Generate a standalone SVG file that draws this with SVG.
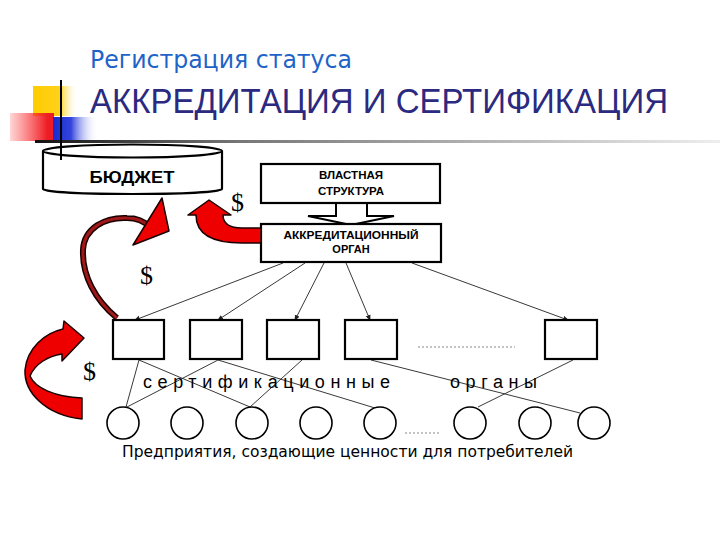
<svg xmlns="http://www.w3.org/2000/svg" width="720" height="540" viewBox="0 0 720 540">
<defs>
<linearGradient id="gY" x1="0" x2="1" y1="0" y2="0"><stop offset="0" stop-color="#ffcc00"/><stop offset="0.6" stop-color="#ffd21a"/><stop offset="1" stop-color="#ffffff" stop-opacity="0"/></linearGradient>
<linearGradient id="gR" x1="0" x2="1" y1="0" y2="0"><stop offset="0" stop-color="#ff3333" stop-opacity="0.2"/><stop offset="0.85" stop-color="#ee1c24"/><stop offset="1" stop-color="#ee1c24"/></linearGradient>
<linearGradient id="gB" x1="0" x2="1" y1="0" y2="0"><stop offset="0" stop-color="#1a2ad0"/><stop offset="0.4" stop-color="#3344dd"/><stop offset="1" stop-color="#ffffff" stop-opacity="0"/></linearGradient>
<linearGradient id="gL" x1="0" x2="1" y1="0" y2="0"><stop offset="0" stop-color="#111"/><stop offset="0.3" stop-color="#777"/><stop offset="0.7" stop-color="#bbb"/><stop offset="1" stop-color="#eee"/></linearGradient>
<marker id="ah" markerWidth="6" markerHeight="6" refX="5" refY="3" orient="auto" markerUnits="userSpaceOnUse"><path d="M0,0.5 L6,3 L0,5.5 Z" fill="#222"/></marker>
<style>
.box{fill:#fff;stroke:#000;stroke-width:2.2}
.thin{fill:#fff;stroke:#000;stroke-width:1.6}
.ln{stroke:#222;stroke-width:0.9;fill:none}
.dot{stroke:#888;stroke-width:1;stroke-dasharray:2 2;fill:none}
.bt{font-family:"Liberation Sans",Arial,sans-serif;font-weight:bold;fill:#000;text-anchor:middle}
.dl{font-family:"Liberation Serif","Times New Roman",serif;font-size:26px;fill:#000}
.red{fill:#ee0000;stroke:#1a0000;stroke-width:1.5;stroke-linejoin:round}
.sp{font-family:"Liberation Sans",Arial,sans-serif;font-size:18px;fill:#000}
</style>
</defs>
<rect width="720" height="540" fill="#fff"/>

<g id="decor">
<rect x="33" y="86" width="45" height="30" fill="url(#gY)"/>
<rect x="10" y="113" width="44" height="28" fill="url(#gR)"/>
<rect x="53" y="117" width="45" height="26" fill="url(#gB)"/>
<rect x="35" y="140" width="685" height="3" fill="url(#gL)"/>
</g>

<g id="title">
<text x="90" y="68" font-family="DejaVu Sans,Verdana,sans-serif" font-size="24" fill="#1e64c8" textLength="262" lengthAdjust="spacingAndGlyphs">Регистрация статуса</text>
<text x="90" y="113" font-family="Liberation Sans,Arial,sans-serif" font-size="35" fill="#2b2a80" textLength="578" lengthAdjust="spacingAndGlyphs">АККРЕДИТАЦИЯ И СЕРТИФИКАЦИЯ</text>
</g>

<g id="budget">
<path d="M43,151 L43,189 A89.5,5 0 0 0 222,189 L222,151" fill="#fff" stroke="#000" stroke-width="2.2"/>
<ellipse cx="132.5" cy="151" rx="89.5" ry="6.5" fill="#fff" stroke="#000" stroke-width="2.2"/>
<text class="bt" x="132" y="183" font-size="17" textLength="85" lengthAdjust="spacingAndGlyphs">БЮДЖЕТ</text>
</g>
<line x1="61" y1="80" x2="61" y2="160" stroke="#000" stroke-width="2"/>

<g id="connectors">
<polygon points="336,203 367,203 367,216 394,216 351,225 308,216 336,216" fill="#fff" stroke="#000" stroke-width="2"/>
<line class="ln" x1="283" y1="263" x2="135" y2="320" marker-end="url(#ah)"/>
<line class="ln" x1="305" y1="263" x2="218" y2="320" marker-end="url(#ah)"/>
<line class="ln" x1="324" y1="263" x2="295" y2="320" marker-end="url(#ah)"/>
<line class="ln" x1="346" y1="263" x2="370" y2="320" marker-end="url(#ah)"/>
<line class="ln" x1="412" y1="263" x2="568" y2="320" marker-end="url(#ah)"/>
<line class="ln" x1="139" y1="360" x2="126" y2="407"/>
<line class="ln" x1="139" y1="360" x2="250" y2="407"/>
<line class="ln" x1="218" y1="360" x2="127" y2="407"/>
<line class="ln" x1="218" y1="360" x2="375" y2="408"/>
<line class="ln" x1="302" y1="360" x2="250" y2="407"/>
<line class="ln" x1="371" y1="360" x2="580" y2="413"/>
<line class="ln" x1="573" y1="360" x2="478" y2="407"/>
<line class="dot" x1="418" y1="347" x2="515" y2="347"/>
<line class="dot" x1="405" y1="433" x2="440" y2="433"/>
</g>

<g id="authority">
<rect class="box" x="261" y="164" width="179" height="39"/>
<text class="bt" x="351" y="179" font-size="11.5">ВЛАСТНАЯ</text>
<text class="bt" x="351" y="195" font-size="11.5">СТРУКТУРА</text>
</g>

<g id="accreditation">
<rect class="box" x="261" y="224" width="180" height="38"/>
<text class="bt" x="351" y="239" font-size="11" textLength="135" lengthAdjust="spacingAndGlyphs">АККРЕДИТАЦИОННЫЙ</text>
<text class="bt" x="351" y="253" font-size="11">ОРГАН</text>
</g>

<g id="cert-bodies">
<rect class="box" x="113" y="320" width="51" height="39"/>
<rect class="box" x="190" y="320" width="52" height="39"/>
<rect class="box" x="267" y="320" width="52" height="39"/>
<rect class="box" x="345" y="320" width="52" height="39"/>
<rect class="box" x="545" y="320" width="52" height="39"/>
</g>

<g id="enterprises">
<circle class="thin" cx="123" cy="423" r="16"/>
<circle class="thin" cx="187" cy="423" r="16"/>
<circle class="thin" cx="252" cy="423" r="16"/>
<circle class="thin" cx="316" cy="423" r="16"/>
<circle class="thin" cx="380" cy="423" r="16"/>
<circle class="thin" cx="470" cy="423" r="16"/>
<circle class="thin" cx="535" cy="423" r="16"/>
<circle class="thin" cx="594" cy="423" r="16"/>
</g>

<g id="labels">
<text class="sp" x="143" y="388" textLength="247" lengthAdjust="spacing">сертификационные</text>
<text class="sp" x="450" y="388" textLength="87" lengthAdjust="spacing">органы</text>
<text x="122" y="457" font-family="DejaVu Sans,Verdana,sans-serif" font-size="16" fill="#000" textLength="451" lengthAdjust="spacingAndGlyphs">Предприятия, создающие ценности для потребителей</text>
<text class="dl" x="231" y="211">$</text>
<text class="dl" x="140" y="284">$</text>
<text class="dl" x="83" y="380">$</text>
</g>

<g id="money-arrows">
<path class="red" d="M261,228 L242,228 Q223,228 223,215 L231,215 L209,200 L188,215 L196,215 Q196,243 242,243 L261,243 Z"/>
<path d="M117,318 C95,300 82,275 83,250 C84,228 105,217 127,218 C137,218 144,221 150,227" fill="none" stroke="#1a0000" stroke-width="6"/>
<path d="M117,318 C95,300 82,275 83,250 C84,228 105,217 127,218 C137,218 144,221 150,227" fill="none" stroke="#a01818" stroke-width="3"/>
<polygon class="red" points="162,198 169,231 133,245"/>
<path class="red" d="M84,338 L64,321 L63,329 C45,333 27,348 25,370 C24,392 45,415 82,419 L82,398 C55,397 35,388 30,376 C35,364 48,356 62,354 L62,361 Z"/>
</g>
</svg>
